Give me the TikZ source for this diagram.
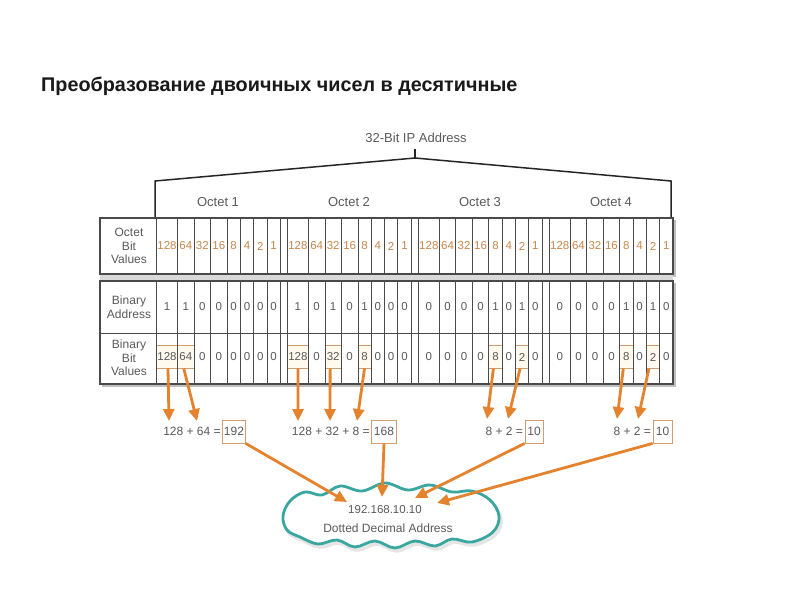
\documentclass[tikz,border=0pt]{standalone}
\usepackage{fontspec}
\setmainfont{Liberation Sans}
\usetikzlibrary{arrows.meta,calc}
\definecolor{txt}{HTML}{5A5A5A}
\definecolor{org}{HTML}{E5822E}
\definecolor{orgtxt}{HTML}{C8864A}
\definecolor{tealc}{HTML}{3AA6A0}
\definecolor{bord}{HTML}{4A4A4A}
\definecolor{boxfill}{HTML}{FFF9EE}
\tikzset{
  cell/.style={inner sep=0pt, font=\fontsize{11.5}{12}\selectfont, text=txt},
  lbl/.style={inner sep=0pt, align=center, font=\fontsize{12}{13.5}\selectfont, text=txt},
  gridline/.style={draw=bord, line width=0.8pt},
  outer/.style={draw=bord, line width=1.4pt},
  bitbox/.style={draw=orgtxt!80, line width=0.8pt, fill=boxfill, inner sep=0pt, minimum height=23pt},
  sumtxt/.style={inner sep=1.5pt, anchor=east, font=\fontsize{12}{14}\selectfont, text=txt},
  sumbox/.style={draw=orgtxt!80, line width=0.8pt, inner sep=0pt, minimum height=23pt, font=\fontsize{12}{14}\selectfont, text=txt},
  arr/.style={draw=org, line width=2.8pt, -{Triangle[length=12pt,width=11pt]}},
  octlbl/.style={inner sep=0pt, font=\fontsize{13}{15}\selectfont, text=txt},
}
\newcommand\octetrow[5]{%
  \foreach \v [count=\i] in {#3} {
    \pgfmathsetmacro\cx{#1+{10.5,29.25,45.75,62.25,77.15,90.45,103.75,117.05}[\i-1]}
    \node[cell,text=#4] (#5-\i) at (\cx,#2) {\v};
  }}
\newcommand\cloudpts{(283,516) (290,501) (305,492) (322,495) (340,486) (362,491) (385,483) (408,490) (430,485) (452,492) (472,491) (490,500) (499,516) (493,532) (472,542) (452,539) (435,546) (415,541) (395,548) (375,541) (355,547) (337,540) (318,544) (300,537) (287,530)}
\begin{document}
\begin{tikzpicture}[x=1pt,y=-1pt]
\useasboundingbox (0,0) rectangle (800,600);
\fill[white] (0,0) rectangle (800,600);

% title
\node[anchor=base west, inner sep=0pt, font=\bfseries\fontsize{19.8}{22}\selectfont, text=black!90] (title) at (41,91) {Преобразование двоичных чисел в десятичные};

% 32-bit bracket
\node[octlbl] (ip) at (416,138) {32-Bit IP Address};
\draw[line width=1.5pt, draw=black!85] (155,218) -- (155,181) -- (415,158) -- (671,181) -- (671,218);
\draw[line width=1.5pt, draw=black!85] (415,158) -- (415,149);
\node[octlbl] (o1) at (218,202) {Octet 1};
\node[octlbl] (o2) at (349,202) {Octet 2};
\node[octlbl] (o3) at (480,202) {Octet 3};
\node[octlbl] (o4) at (611,202) {Octet 4};

% table shadows and band
\fill[black!25] (102,220) rectangle (675.5,276.5);
\fill[black!25] (102,283) rectangle (675.5,386.5);
\fill[black!15] (100,274) rectangle (673,281);
\fill[white] (100,218) rectangle (673,274);
\fill[white] (100,281) rectangle (673,384);

% boxes in binary bit values row
\node[bitbox, minimum width=21pt]   (bA) at (167,356.5) {};
\node[bitbox, minimum width=16.5pt] (bB) at (185.75,356.5) {};
\node[bitbox, minimum width=21pt]   (bC) at (297.9,356.5) {};
\node[bitbox, minimum width=16.5pt] (bD) at (333.15,356.5) {};
\node[bitbox, minimum width=13.3pt] (bE) at (364.55,356.5) {};
\node[bitbox, minimum width=13.3pt] (bF) at (495.45,356.5) {};
\node[bitbox, minimum width=13.3pt] (bG) at (522.05,356.5) {};
\node[bitbox, minimum width=13.3pt] (bH) at (626.35,356.5) {};
\node[bitbox, minimum width=13.3pt] (bI) at (652.95,356.5) {};

% grid lines
\foreach \s in {156.5,287.4,418.3,549.2} {
  \foreach \o in {0,21,37.5,54,70.5,83.8,97.1,110.4,123.7} {
    \pgfmathsetmacro\xx{\s+\o}
    \draw[gridline] (\xx,218) -- (\xx,274);
    \draw[gridline] (\xx,281) -- (\xx,384);
  }
}
\draw[gridline] (100,333) -- (673,333);
\draw[outer] (100,218) rectangle (673,274);
\draw[outer] (100,281) rectangle (673,384);

% labels
\node[lbl] (l1) at (129,246) {Octet\\Bit\\Values};
\node[lbl] (l2) at (129,307) {Binary\\Address};
\node[lbl] (l3) at (129,358) {Binary\\Bit\\Values};

% row contents
\octetrow{156.5}{246}{128,64,32,16,8,4,2,1}{orgtxt}{va}
\octetrow{287.4}{246}{128,64,32,16,8,4,2,1}{orgtxt}{vb}
\octetrow{418.3}{246}{128,64,32,16,8,4,2,1}{orgtxt}{vc}
\octetrow{549.2}{246}{128,64,32,16,8,4,2,1}{orgtxt}{vd}
\octetrow{156.5}{307}{1,1,0,0,0,0,0,0}{txt}{aa}
\octetrow{287.4}{307}{1,0,1,0,1,0,0,0}{txt}{ab}
\octetrow{418.3}{307}{0,0,0,0,1,0,1,0}{txt}{ac}
\octetrow{549.2}{307}{0,0,0,0,1,0,1,0}{txt}{ad}
\octetrow{156.5}{357}{128,64,0,0,0,0,0,0}{txt}{wa}
\octetrow{287.4}{357}{128,0,32,0,8,0,0,0}{txt}{wb}
\octetrow{418.3}{357}{0,0,0,0,8,0,2,0}{txt}{wc}
\octetrow{549.2}{357}{0,0,0,0,8,0,2,0}{txt}{wd}

% sums
\node[sumbox, minimum width=22.5pt] (s1) at (234,431.5) {192};
\node[sumtxt] (t1) at (s1.west) {128 + 64 =};
\node[sumbox, minimum width=24.5pt] (s2) at (384,431.5) {168};
\node[sumtxt] (t2) at (s2.west) {128 + 32 + 8 =};
\node[sumbox, minimum width=18pt] (s3) at (534,431.5) {10};
\node[sumtxt] (t3) at (s3.west) {8 + 2 =};
\node[sumbox, minimum width=19pt] (s4) at (662.5,431.5) {10};
\node[sumtxt] (t4) at (s4.west) {8 + 2 =};

\coordinate (eA) at (169,421);
\coordinate (eB) at (197,421);
\coordinate (eC) at (298,421);
\coordinate (eD) at (330,421);
\coordinate (eE) at (357,421);
\coordinate (eF) at (487,419);
\coordinate (eG) at (508,419);
\coordinate (eH) at (617,419);
\coordinate (eI) at (638,419);

\draw[arr] ([xshift=1pt]bA.south) -- (eA);
\draw[arr] ([xshift=-2pt]bB.south) -- (eB);
\draw[arr] (bC.south) -- (eC);
\draw[arr] ([xshift=-3pt]bD.south) -- (eD);
\draw[arr] (bE.south) -- (eE);
\draw[arr] ([xshift=-2pt]bF.south) -- (eF);
\draw[arr] ([xshift=-2pt]bG.south) -- (eG);
\draw[arr] ([xshift=-3pt]bH.south) -- (eH);
\draw[arr] ([xshift=-4pt]bI.south) -- (eI);

% cloud
\draw[black!10, line width=3.5pt, shift={(2,3)}] plot[smooth cycle, tension=0.6] coordinates {\cloudpts};
\draw[tealc, line width=2.8pt, fill=white] plot[smooth cycle, tension=0.6] coordinates {\cloudpts};
\node[cell, font=\fontsize{11.5}{14}\selectfont] (ipv) at (385,510) {192.168.10.10};
\node[cell, font=\fontsize{12}{14}\selectfont] (ddn) at (388,528) {Dotted Decimal Address};

\coordinate (c1) at (347,502);
\coordinate (c2) at (382,497);
\coordinate (c3) at (415,498);
\coordinate (c4) at (437,503);
\draw[arr] (s1.south east) -- (c1);
\draw[arr] (s2.south) -- (c2);
\draw[arr] (s3.south west) -- (c3);
\draw[arr] (s4.south west) -- (c4);
\end{tikzpicture}
\end{document}
